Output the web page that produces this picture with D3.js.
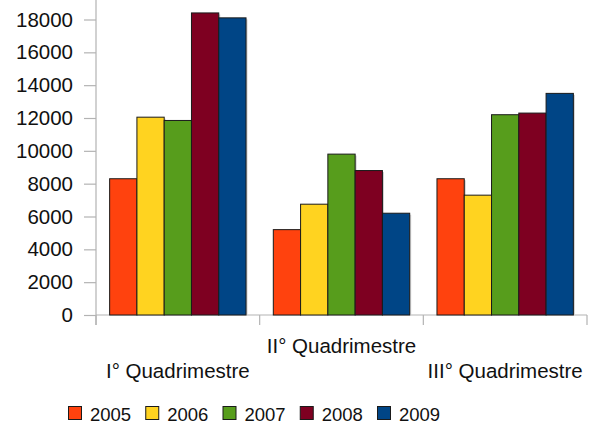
<!DOCTYPE html>
<html>
<head>
<meta charset="utf-8">
<script src="https://cdn.jsdelivr.net/npm/d3@7"></script>
<style>
  html, body { margin: 0; padding: 0; background: #fff; }
  svg { display: block; }
  text { font-family: "Liberation Sans", Arial, sans-serif; fill: #111; }
</style>
</head>
<body>
<svg id="chart" width="589" height="423"></svg>
<script>
const categories = ["I° Quadrimestre", "II° Quadrimestre", "III° Quadrimestre"];
const seriesNames = ["2005", "2006", "2007", "2008", "2009"];
const values2005 = [8300, 5200, 8300];
const values2006 = [12050, 6750, 7300];
const values2007 = [11850, 9800, 12200];
const values2008 = [18400, 8800, 12300];
const values2009 = [18100, 6200, 13500];
const seriesColors = ["#ff420e", "#ffd320", "#579d1c", "#7e0021", "#004586"];
const yTicks = [0, 2000, 4000, 6000, 8000, 10000, 12000, 14000, 16000, 18000];

const seriesValues = [values2005, values2006, values2007, values2008, values2009];

const svg = d3.select("#chart");
const left = 96, right = 587, zeroY = 315, topTickY = 19.5;

const y = d3.scaleLinear().domain([0, 18000]).range([zeroY, topTickY]);
const x0 = d3.scaleBand().domain(categories).range([left, right]).paddingInner(0).paddingOuter(0);
const x1 = d3.scaleBand().domain(seriesNames).range([0, x0.bandwidth()]).paddingOuter(0.5).paddingInner(0);

const axisColor = "#b3b3b3";

// Y axis line
svg.append("line").attr("x1", left).attr("x2", left).attr("y1", 0).attr("y2", zeroY + 10)
  .attr("stroke", axisColor).attr("stroke-width", 1.2);

// Y ticks and labels
const yAxis = d3.axisLeft(y).tickValues(yTicks).tickSize(12).tickPadding(11).tickFormat(d3.format("d"));
const gy = svg.append("g").attr("transform", `translate(${left},0)`).call(yAxis);
gy.select(".domain").remove();
gy.selectAll(".tick line").attr("stroke", axisColor).attr("stroke-width", 1.2);
gy.selectAll(".tick text").style("font-size", "20.5px").attr("fill", "#111")
  .style("font-family", '"Liberation Sans", Arial, sans-serif');

// X axis line
svg.append("line").attr("x1", left).attr("x2", right).attr("y1", zeroY).attr("y2", zeroY)
  .attr("stroke", axisColor).attr("stroke-width", 1.2);
// category boundary ticks
const boundaries = categories.map(c => x0(c)).concat([x0(categories[categories.length - 1]) + x0.bandwidth()]);
svg.selectAll(".xtick").data(boundaries).enter().append("line")
  .attr("x1", d => d).attr("x2", d => d).attr("y1", zeroY).attr("y2", zeroY + 10)
  .attr("stroke", axisColor).attr("stroke-width", 1.2);

// Bars
const groups = svg.selectAll(".grp").data(categories).enter().append("g")
  .attr("transform", c => `translate(${x0(c)},0)`);

groups.each(function(c, ci) {
  const g = d3.select(this);
  const data = seriesNames.map((s, si) => ({ s, si, v: seriesValues[si][ci] }));
  g.selectAll(".shadow").data(data).enter().append("rect")
    .attr("x", d => x1(d.s) + 1.5).attr("y", d => y(d.v) + 1.5)
    .attr("width", x1.bandwidth()).attr("height", d => zeroY - y(d.v) - 1.5)
    .attr("fill", "#d0d0d0");
  g.selectAll(".bar").data(data).enter().append("rect")
    .attr("x", d => x1(d.s)).attr("y", d => y(d.v))
    .attr("width", x1.bandwidth()).attr("height", d => zeroY - y(d.v))
    .attr("fill", d => seriesColors[d.si])
    .attr("stroke", "#1a1a1a").attr("stroke-width", 1);
});

// Category labels (staggered)
svg.selectAll(".clabel").data(categories).enter().append("text")
  .attr("x", c => x0(c) + x0.bandwidth() / 2)
  .attr("y", (c, i) => i % 2 === 1 ? 353 : 378)
  .attr("text-anchor", "middle")
  .style("font-size", "20.5px")
  .text(c => c);

// Legend
const legend = svg.append("g");
const legX = d3.scaleLinear().domain([0, 4]).range([68, 377]);
seriesNames.forEach((s, i) => {
  legend.append("rect").attr("x", legX(i) + 0.5).attr("y", 406.5).attr("width", 13).attr("height", 13)
    .attr("fill", seriesColors[i]).attr("stroke", "#1a1a1a").attr("stroke-width", 1);
  legend.append("text").attr("x", legX(i) + 22).attr("y", 420.5).style("font-size", "18.5px").text(s);
});
</script>
</body>
</html>
